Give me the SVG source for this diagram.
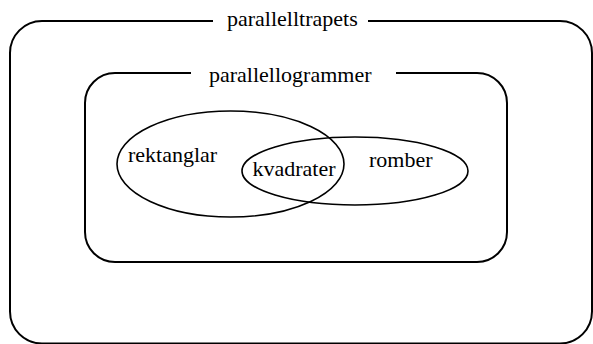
<svg xmlns="http://www.w3.org/2000/svg" width="593" height="344" viewBox="0 0 593 344">
  <style>
    .frame { fill: none; stroke: #000; stroke-width: 2; }
    .set { fill: none; stroke: #000; stroke-width: 1.6; }
    .lbl { font-size: 22px; fill: #000; }
  </style>
  <rect width="593" height="344" fill="#fff"/>
  <!-- outer set: trapezoids with parallel sides -->
  <g id="parallelltrapets">
    <path class="frame" d="M368,21 H560 A32,32 0 0 1 592,53 V311.5 A32,32 0 0 1 560,343.5 H42 A32,32 0 0 1 10,311.5 V53 A32,32 0 0 1 42,21 H213"/>
    <text class="lbl" font-family="Liberation Serif, DejaVu Serif, serif" x="227" y="26">parallelltrapets</text>
  </g>
  <!-- parallelograms -->
  <g id="parallellogrammer">
    <path class="frame" d="M396,73 H477 A30,30 0 0 1 507,103 V232 A30,30 0 0 1 477,262 H115 A30,30 0 0 1 85,232 V103 A30,30 0 0 1 115,73 H191"/>
    <text class="lbl" font-family="Liberation Serif, DejaVu Serif, serif" x="209" y="81.5">parallellogrammer</text>
  </g>
  <!-- rectangles -->
  <g id="rektanglar">
    <ellipse class="set" cx="230.5" cy="164" rx="113.5" ry="53"/>
    <text class="lbl" font-family="Liberation Serif, DejaVu Serif, serif" x="128" y="162">rektanglar</text>
  </g>
  <!-- rhombi -->
  <g id="romber">
    <ellipse class="set" cx="355" cy="171" rx="113" ry="34"/>
    <text class="lbl" font-family="Liberation Serif, DejaVu Serif, serif" x="369" y="167">romber</text>
  </g>
  <!-- squares: the overlap -->
  <g id="kvadrater">
    <text class="lbl" font-family="Liberation Serif, DejaVu Serif, serif" x="252.5" y="175.5">kvadrater</text>
  </g>
  <g id="connectors"/>
</svg>
